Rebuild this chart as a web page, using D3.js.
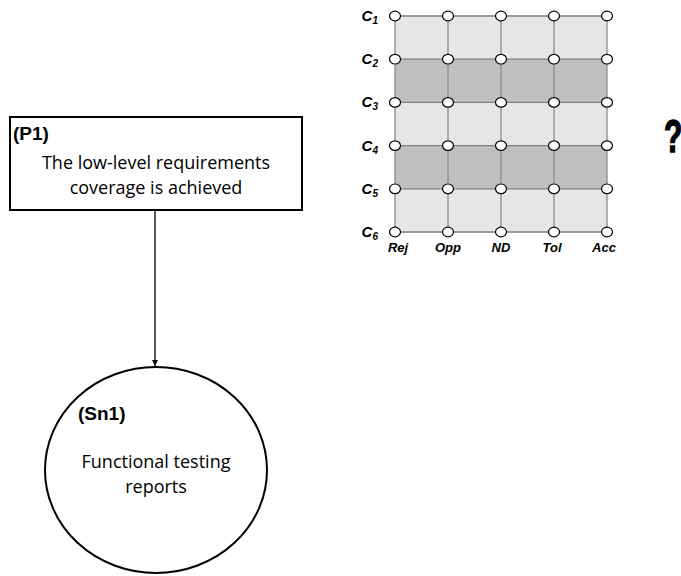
<!DOCTYPE html>
<meta charset="utf-8">
<style>
body { margin: 0; background: #fff; }
.lbl { font-family: "Liberation Sans", Arial, sans-serif; font-weight: bold; }
.body { font-family: "Open Sans", "Noto Sans", sans-serif; font-size: 18px; }
.axis { font-family: "Liberation Sans", Arial, sans-serif; font-weight: bold; font-style: italic; font-size: 13px; }
</style>
<svg width="681" height="576"></svg>
<script src="https://d3js.org/d3.v7.min.js"></script>
<script>

// grid data
var columns = ["Rej", "Opp", "ND", "Tol", "Acc"];
var colNudge = [3, 0, 0, -2, -3];
var rows = ["1", "2", "3", "4", "5", "6"];        // C subscripts
var bandShade = ["light", "dark", "light", "dark", "light"];  // between rows

// node texts
var goalId = "(P1)";
var goalLines = ["The low-level requirements", "coverage is achieved"];
var solId = "(Sn1)";
var solLines = ["Functional testing", "reports"];

var svg = d3.select("svg");

var x = d3.scalePoint().domain(columns).range([395, 607]);
var y = d3.scalePoint().domain(rows).range([16, 232]);

var grid = svg.append("g");

// shaded bands
grid.selectAll("rect.band")
    .data(bandShade)
  .enter().append("rect")
    .attr("class", "band")
    .attr("x", x(columns[0]))
    .attr("width", x(columns[columns.length - 1]) - x(columns[0]))
    .attr("y", function(d, i) { return y(rows[i]); })
    .attr("height", function(d, i) { return y(rows[i + 1]) - y(rows[i]); })
    .style("fill", function(d) { return d == "dark" ? "#bfbfbf" : "#e6e6e6"; });

// grid lines
grid.selectAll("line.h")
    .data(rows)
  .enter().append("line")
    .attr("x1", x(columns[0])).attr("x2", x(columns[columns.length - 1]))
    .attr("y1", function(d) { return y(d); }).attr("y2", function(d) { return y(d); })
    .style("stroke", "#7f7f7f").style("stroke-width", 1.3);

grid.selectAll("line.v")
    .data(columns)
  .enter().append("line")
    .attr("x1", function(d) { return x(d); }).attr("x2", function(d) { return x(d); })
    .attr("y1", y(rows[0])).attr("y2", y(rows[rows.length - 1]))
    .style("stroke", "#8c8c8c").style("stroke-width", 1.3);

// nodes
var pts = [];
rows.forEach(function(r) { columns.forEach(function(c) { pts.push([c, r]); }); });
grid.selectAll("ellipse")
    .data(pts)
  .enter().append("ellipse")
    .attr("cx", function(d) { return x(d[0]); })
    .attr("cy", function(d) { return y(d[1]); })
    .attr("rx", 5.5).attr("ry", 4.8)
    .style("fill", "#fff").style("stroke", "#000").style("stroke-width", 1.2);

// row labels C_n
var rl = grid.selectAll("text.row")
    .data(rows)
  .enter().append("text")
    .attr("class", "axis")
    .attr("x", 378)
    .attr("y", function(d) { return y(d) + 5; })
    .attr("text-anchor", "end")
    .style("font-size", "15px");
rl.append("tspan").text("C");
rl.append("tspan").attr("dy", 3).style("font-size", "10px").text(function(d) { return d; });

// column labels
grid.selectAll("text.col")
    .data(columns)
  .enter().append("text")
    .attr("class", "axis")
    .attr("x", function(d, i) { return x(d) + colNudge[i]; })
    .attr("y", 252)
    .attr("text-anchor", "middle")
    .text(function(d) { return d; });

// question mark
svg.append("text")
    .attr("class", "lbl")
    .attr("transform", "translate(664,152) scale(0.65,1)")
    .style("font-size", "46px")
    .style("stroke", "#000").style("stroke-width", 1.5)
    .text("?");

// goal box
svg.append("rect")
    .attr("x", 10).attr("y", 117)
    .attr("width", 292).attr("height", 93)
    .style("fill", "#fff").style("stroke", "#000").style("stroke-width", 2);

svg.append("text").attr("class", "lbl")
    .attr("x", 13).attr("y", 140)
    .style("font-size", "19px")
    .text(goalId);

svg.selectAll("text.goal")
    .data(goalLines)
  .enter().append("text")
    .attr("class", "body")
    .attr("x", 156)
    .attr("y", function(d, i) { return 169 + i * 25; })
    .attr("text-anchor", "middle")
    .text(function(d) { return d; });

// arrow
svg.append("defs").append("marker")
    .attr("id", "arr")
    .attr("viewBox", "0 0 10 10")
    .attr("refX", 10).attr("refY", 5)
    .attr("markerWidth", 6).attr("markerHeight", 6)
    .attr("markerUnits", "userSpaceOnUse")
    .attr("orient", "auto")
  .append("path").attr("d", "M0,0L10,5L0,10z").style("fill", "#000");

svg.append("line")
    .attr("x1", 155).attr("x2", 155)
    .attr("y1", 210).attr("y2", 366)
    .style("stroke", "#000").style("stroke-width", 1.3)
    .attr("marker-end", "url(#arr)");

// solution circle
svg.append("ellipse")
    .attr("cx", 156).attr("cy", 470)
    .attr("rx", 111).attr("ry", 103)
    .style("fill", "none").style("stroke", "#000").style("stroke-width", 2);

svg.append("text").attr("class", "lbl")
    .attr("x", 78).attr("y", 420)
    .style("font-size", "19px")
    .text(solId);

svg.selectAll("text.sol")
    .data(solLines)
  .enter().append("text")
    .attr("class", "body")
    .attr("x", 156)
    .attr("y", function(d, i) { return 468 + i * 25; })
    .attr("text-anchor", "middle")
    .text(function(d) { return d; });

</script>
